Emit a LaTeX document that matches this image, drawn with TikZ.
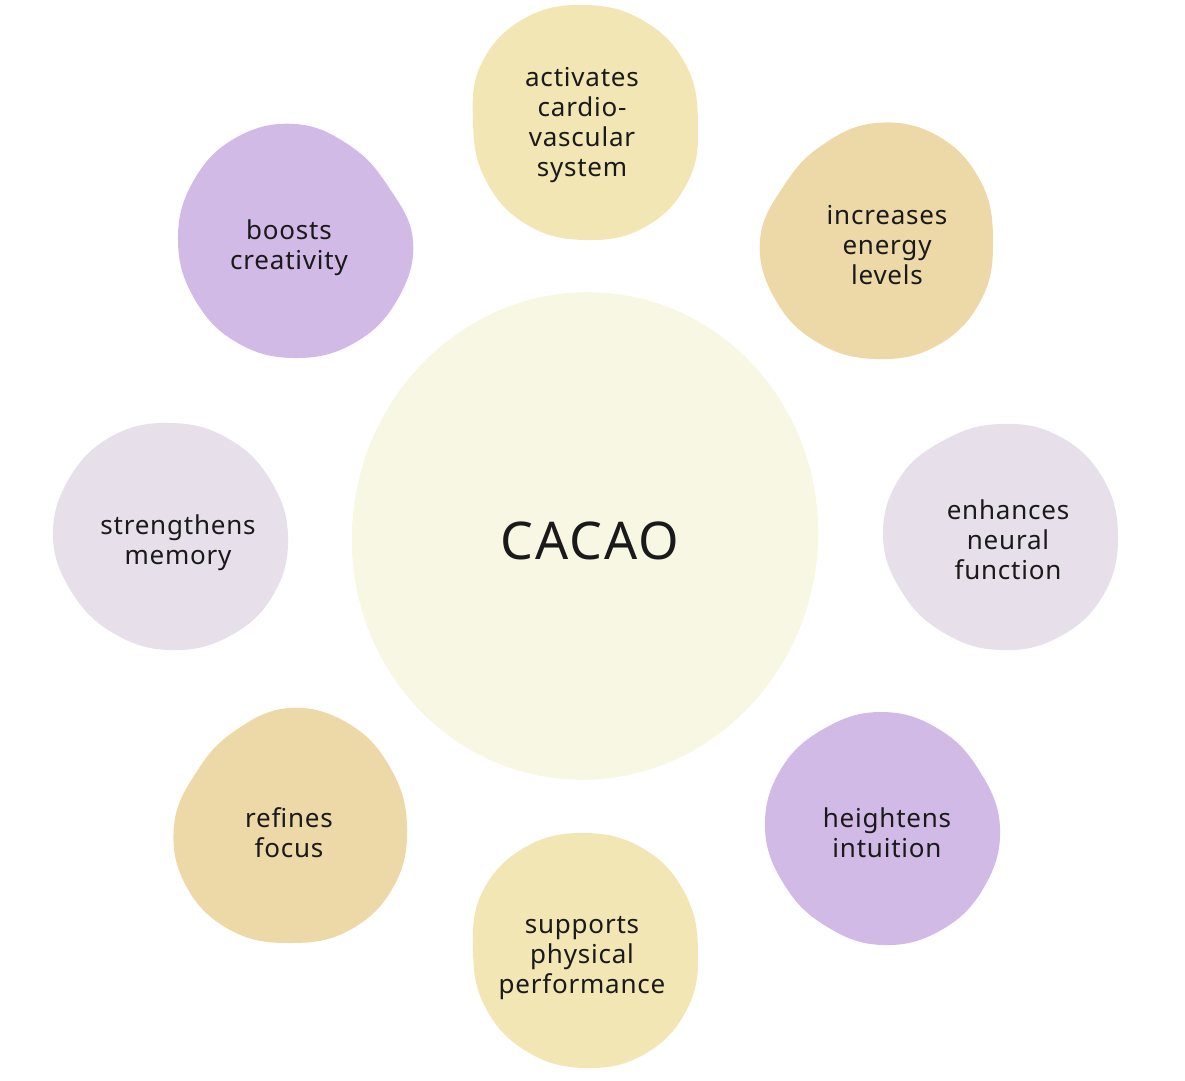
\documentclass[tikz,border=0pt]{standalone}
\usepackage{fontspec}
\setmainfont{Noto Sans}
\usepackage{tikz}
\usetikzlibrary{positioning}
\usetikzlibrary{backgrounds, calc}
\definecolor{cacaocream}{RGB}{248,247,227}
\definecolor{cacaolilac}{RGB}{210,186,231}
\definecolor{cacaomist}{RGB}{231,224,235}
\definecolor{cacaosand}{RGB}{242,230,180}
\definecolor{cacaotan}{RGB}{237,216,167}
\definecolor{cacaoink}{RGB}{26,26,26}

\begin{document}
\begin{tikzpicture}[x=1pt, y=-1pt, font=\addfontfeatures{LetterSpace=3}\fontsize{26}{30}\selectfont]%
            \tikzstyle{lbl} = [ align = center, text = cacaoink, inner sep = 0pt]
            \tikzstyle{hub} = [ align = center, text = cacaoink, inner sep = 0pt, font = \addfontfeatures{LetterSpace=4}\fontsize{52}{60}\selectfont]
            \tikzstyle{lilac} = [ fill = cacaolilac]
            \tikzstyle{mist} = [ fill = cacaomist]
            \tikzstyle{sand} = [ fill = cacaosand]
            \tikzstyle{tan} = [ fill = cacaotan]
            \tikzstyle{blob} = [ smooth cycle, tension = 0.7]
        %%
            \useasboundingbox (0,0) rectangle (1185,1080);
            %% Centre
            \node [hub] (cacao) at (590,541) {CACAO};

            %% Benefits
            \node [lbl] (cardio) at (582,125) {activates\\cardio-\\vascular\\system};
            \node [lbl] (energy) at (887,245) {increases\\energy\\levels};
            \node [lbl] (neural) at (1008,540) {enhances\\neural\\function};
            \node [lbl] (intuition) at (887,833) {heightens\\intuition};
            \node [lbl] (physical) at (582,958) {supports\\physical\\performance};
            \node [lbl] (focus) at (289,833) {refines\\focus};
            \node [lbl] (memory) at (178,543) {strengthens\\memory};
            \node [lbl] (creativity) at (289,248) {boosts\\creativity};

            %% Blobs
            \begin{scope}[on background layer]
                \fill [cacaocream, rotate around = {-8:(585,536)}] (585,536) ellipse [x radius = 233, y radius = 244];
                \fill [sand, shift = {(585,122)}] plot [blob] coordinates {(0:113) (30:119) (60:121) (90:118) (120:118) (150:115) (180:112) (210:119) (240:120) (270:117) (300:117) (330:116)};
                \fill [tan, shift = {(876,240)}] plot [blob] coordinates {(0:117) (30:121) (60:122) (90:119) (120:118) (150:117) (180:116) (210:107) (240:109) (270:117) (300:121) (330:120)};
                \fill [mist, shift = {(1000,536)}] plot [blob] coordinates {(0:118) (30:119) (60:117) (90:114) (120:112) (150:113) (180:117) (210:116) (240:111) (270:112) (300:116) (330:118)};
                \fill [lilac, shift = {(882,828)}] plot [blob] coordinates {(0:118) (30:118) (60:118) (90:117) (120:113) (150:113) (180:117) (210:117) (240:115) (270:116) (300:114) (330:113)};
                \fill [sand, shift = {(585,950)}] plot [blob] coordinates {(0:113) (30:118) (60:120) (90:118) (120:117) (150:115) (180:112) (210:118) (240:119) (270:117) (300:117) (330:115)};
                \fill [tan, shift = {(290,826)}] plot [blob] coordinates {(0:117) (30:120) (60:120) (90:117) (120:120) (150:120) (180:116) (210:108) (240:110) (270:118) (300:118) (330:116)};
                \fill [mist, shift = {(171,536)}] plot [blob] coordinates {(0:117) (30:118) (60:116) (90:114) (120:113) (150:114) (180:118) (210:117) (240:116) (270:113) (300:113) (330:114)};
                \fill [lilac, shift = {(295,241)}] plot [blob] coordinates {(0:118) (30:118) (60:118) (90:117) (120:117) (150:116) (180:117) (210:118) (240:119) (270:117) (300:110) (330:108)};
            \end{scope}%
        \end{tikzpicture}
\end{document}
